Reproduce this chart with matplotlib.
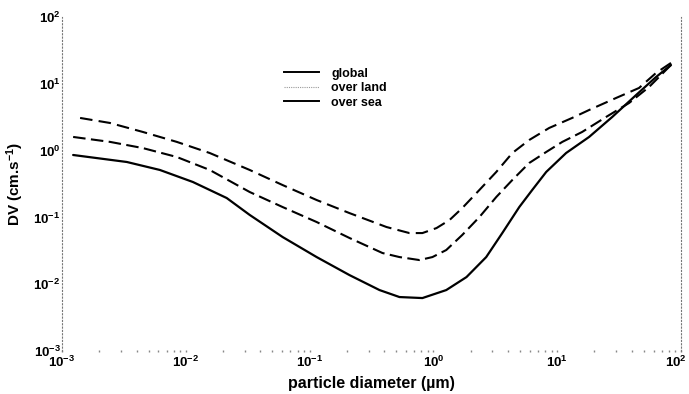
import matplotlib

matplotlib.use("Agg")
import matplotlib.pyplot as plt
import matplotlib.transforms as mtransforms
from matplotlib.lines import Line2D

plt.rcParams["font.family"] = ["Liberation Sans", "DejaVu Sans"]
plt.rcParams["font.weight"] = "bold"
plt.rcParams["mathtext.fontset"] = "custom"
plt.rcParams["mathtext.rm"] = "Liberation Sans:bold"
plt.rcParams["mathtext.bf"] = "Liberation Sans:bold"
plt.rcParams["mathtext.it"] = "Liberation Sans:bold"
plt.rcParams["mathtext.default"] = "bf"

# values (diameter in um, DV in cm/s)
d_global = [0.00123, 0.00334, 0.00617, 0.0114, 0.0214, 0.0328, 0.0605, 0.114,
            0.210, 0.367, 0.532, 0.815, 1.27, 1.85, 2.67, 3.60, 4.94, 6.28,
            8.15, 11.8, 18.1, 27.8, 43.4, 62.8, 83.0]
dv_global = [0.859, 0.675, 0.513, 0.339, 0.195, 0.109, 0.0509, 0.0255,
             0.0137, 0.00818, 0.00643, 0.00621, 0.00818, 0.0128, 0.0255,
             0.0583, 0.143, 0.257, 0.479, 0.920, 1.60, 3.18, 6.79, 12.6, 19.1]

d_land = [0.00140, 0.00244, 0.00450, 0.00845, 0.0156, 0.0328, 0.0605, 0.114,
          0.210, 0.418, 0.640, 0.815, 1.06, 1.35, 1.71, 2.35, 3.22, 4.34,
          5.94, 8.61, 13.2, 18.1, 29.9, 45.8, 62.8, 83.0]
dv_land = [3.08, 2.59, 1.90, 1.35, 0.920, 0.513, 0.305, 0.182, 0.116,
           0.0718, 0.0583, 0.0583, 0.0693, 0.0914, 0.138, 0.257, 0.479,
           0.920, 1.44, 2.18, 3.08, 4.05, 6.13, 8.65, 14.5, 20.5]

d_sea = [0.00123, 0.00244, 0.00450, 0.00845, 0.0156, 0.0328, 0.0605, 0.114,
         0.210, 0.388, 0.532, 0.771, 0.982, 1.27, 1.71, 2.35, 3.22, 4.34,
         5.94, 8.15, 11.0, 15.9, 24.8, 38.1, 55.2, 83.0]
dv_sea = [1.60, 1.35, 1.09, 0.802, 0.513, 0.240, 0.143, 0.0853, 0.0492,
          0.0293, 0.0255, 0.0230, 0.0255, 0.0325, 0.0546, 0.101, 0.202,
          0.363, 0.652, 0.953, 1.35, 1.90, 3.18, 5.16, 8.95, 19.1]

labels = ["global", "over land", "over sea"]
decades = [1e-3, 1e-2, 1e-1, 1e0, 1e1, 1e2]

fig = plt.figure(figsize=(6.89, 3.94), dpi=100)
ax = fig.add_axes([0.090, 0.109, 0.8984, 0.848])

ax.plot(d_global, dv_global, color="black", lw=1.6, solid_capstyle="round",
        solid_joinstyle="round")
ax.plot(d_land, dv_land, color="black", lw=1.5, dashes=(6, 3))
ax.plot(d_sea, dv_sea, color="black", lw=1.5, dashes=(6, 2.6))

ax.set_xscale("log")
ax.set_yscale("log")
ax.set_xticks(decades)
ax.set_yticks(decades)
ax.set_xlim(1e-3, 1e2)
ax.set_ylim(1e-3, 1e2)

ax.spines["top"].set_visible(False)
ax.spines["bottom"].set_visible(False)
for side in ["left", "right"]:
    ax.spines[side].set_linestyle((0, (1, 2)))
    ax.spines[side].set_color("#777777")
    ax.spines[side].set_linewidth(0.8)

ax.tick_params(axis="x", which="both", direction="inout", length=1.5,
               width=1.0, color="#888888", pad=2, labelsize=9.5)
ax.tick_params(axis="y", which="both", length=0, pad=1, labelsize=9.5)

ax.set_xlabel("particle diameter (µm)", fontsize=11.5, fontweight="bold",
              labelpad=4)
ax.set_ylabel("DV (cm.s$^{-1}$)", fontsize=11, fontweight="bold", labelpad=5)

# nudge the last x tick label so it stays inside the picture
shift = mtransforms.ScaledTranslation(-5 / 100, 0, fig.dpi_scale_trans)
last = ax.xaxis.get_major_ticks()[-1].label1
last.set_transform(last.get_transform() + shift)

handles = [
    Line2D([], [], color="black", lw=1.4),
    Line2D([], [], color="#999999", lw=0.8, linestyle=(0, (1, 1))),
    Line2D([], [], color="black", lw=1.4),
]
ax.legend(handles, labels, loc="upper left", bbox_to_anchor=(0.34, 0.882),
          frameon=False, fontsize=9, handlelength=2.8, handletextpad=1.0,
          labelspacing=0.2)

fig.savefig("out.png", dpi=100)
